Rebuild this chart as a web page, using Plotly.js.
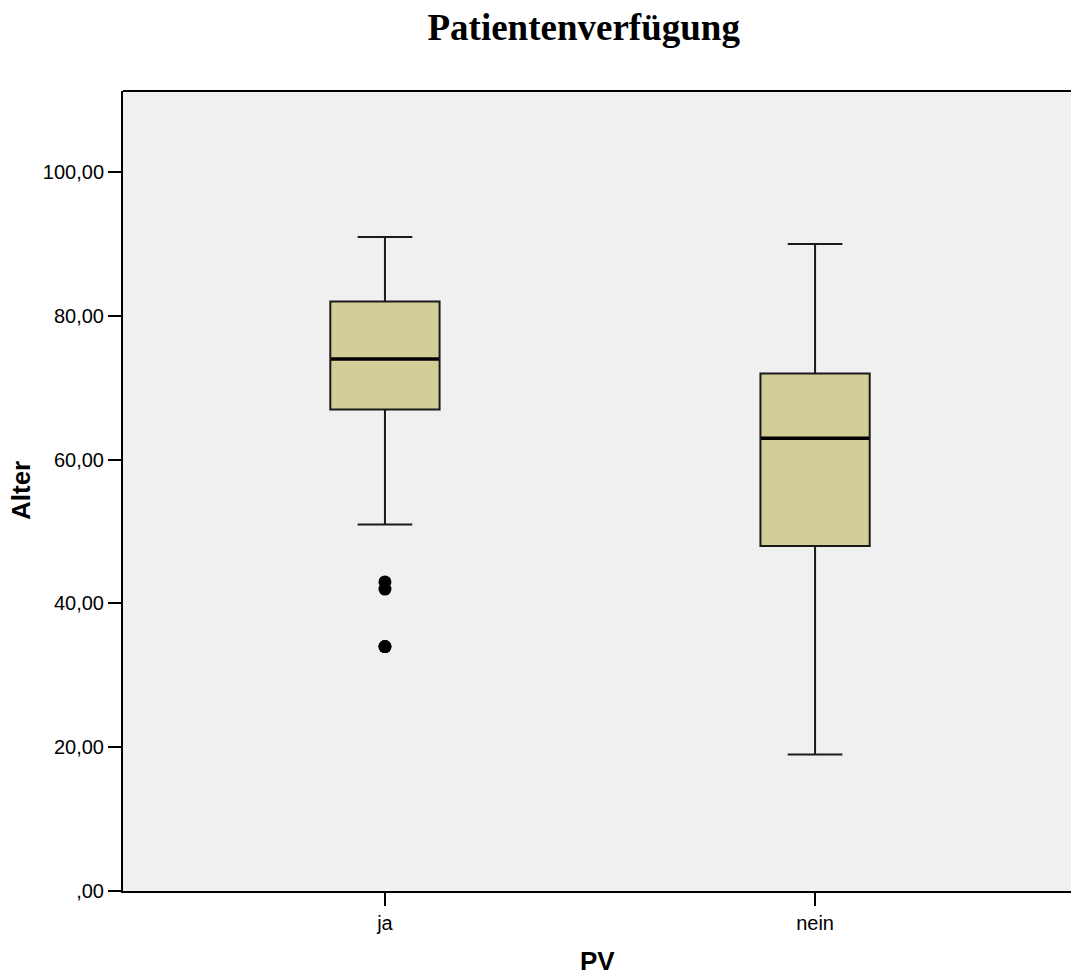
<!DOCTYPE html>
<html>
<head>
<meta charset="utf-8">
<script src="https://cdn.plot.ly/plotly-3.0.1.min.js"></script>
<style>html,body{margin:0;padding:0;background:#fff;}#chart{width:1071px;height:980px;}</style>
</head>
<body>
<div id="chart"></div>
<script>
const categories = ["ja", "nein"];
const q1Values = [67, 48];
const medianValues = [74, 63];
const q3Values = [82, 72];
const lowerFence = [51, 19];
const upperFence = [91, 90];
const outlierCategory = ["ja", "ja", "ja", "ja"];
const outlierValues = [43, 42, 34, 34];
const yTickVals = [0, 20, 40, 60, 80, 100];
const yTickText = [",00", "20,00", "40,00", "60,00", "80,00", "100,00"];

const boxTrace = {
  type: "box",
  x: categories,
  q1: q1Values,
  median: medianValues,
  q3: q3Values,
  lowerfence: lowerFence,
  upperfence: upperFence,
  width: 0.254,
  whiskerwidth: 0.5,
  fillcolor: "#d3ce97",
  line: {color: "#1a1a1a", width: 2},
  boxpoints: false,
  hoverinfo: "skip",
  showlegend: false
};

const medianTrace = {
  type: "scatter",
  mode: "markers",
  x: categories,
  y: medianValues,
  marker: {symbol: "line-ew-open", size: 77, color: "#000", line: {color: "#000", width: 3.5}},
  hoverinfo: "skip",
  showlegend: false
};

const outlierTrace = {
  type: "scatter",
  mode: "markers",
  x: outlierCategory,
  y: outlierValues,
  marker: {symbol: "circle", size: 13, color: "#000"},
  hoverinfo: "skip",
  showlegend: false
};

const axisFont = {family: "Liberation Sans, Arial, sans-serif", size: 26, color: "#000"};

const layout = {
  width: 1071,
  height: 980,
  margin: {l: 123, r: 0, t: 91, b: 89},
  paper_bgcolor: "#ffffff",
  plot_bgcolor: "#f0f0f0",
  showlegend: false,
  title: {
    text: "<b>Patientenverfügung</b>",
    font: {family: "Liberation Serif, Times New Roman, serif", size: 37, color: "#000"},
    x: 0.545, xref: "container", xanchor: "center",
    y: 0.972, yref: "container", yanchor: "middle"
  },
  xaxis: {
    type: "category",
    categoryorder: "array",
    categoryarray: categories,
    range: [-0.609, 1.595],
    showgrid: false,
    zeroline: false,
    showline: true,
    linecolor: "#000",
    linewidth: 2,
    mirror: false,
    ticks: "outside",
    ticklen: 13,
    tickwidth: 2,
    tickcolor: "#000",
    ticklabelstandoff: 0,
    tickfont: {family: "Liberation Sans, Arial, sans-serif", size: 20, color: "#000"}
  },
  yaxis: {
    range: [0, 111.3],
    tickvals: yTickVals,
    ticktext: yTickText,
    showgrid: false,
    zeroline: false,
    showline: true,
    linecolor: "#000",
    linewidth: 2,
    ticks: "outside",
    ticklen: 13,
    tickwidth: 2,
    tickcolor: "#000",
    tickfont: {family: "Liberation Sans, Arial, sans-serif", size: 20, color: "#000"}
  },
  annotations: [
    {text: "<b>PV</b>", xref: "paper", yref: "paper", x: 0.5, y: -0.0875,
     xanchor: "center", yanchor: "middle", showarrow: false, font: axisFont},
    {text: "<b>Alter</b>", xref: "paper", yref: "paper", x: -0.1076, y: 0.50125,
     xanchor: "center", yanchor: "middle", textangle: -90, showarrow: false, font: axisFont}
  ],
  shapes: [
    {type: "line", xref: "paper", yref: "paper", x0: 0, x1: 1, y0: 1, y1: 1, line: {color: "#000", width: 2}}
  ]
};

Plotly.newPlot("chart", [boxTrace, medianTrace, outlierTrace], layout, {displayModeBar: false, staticPlot: true});
</script>
</body>
</html>
